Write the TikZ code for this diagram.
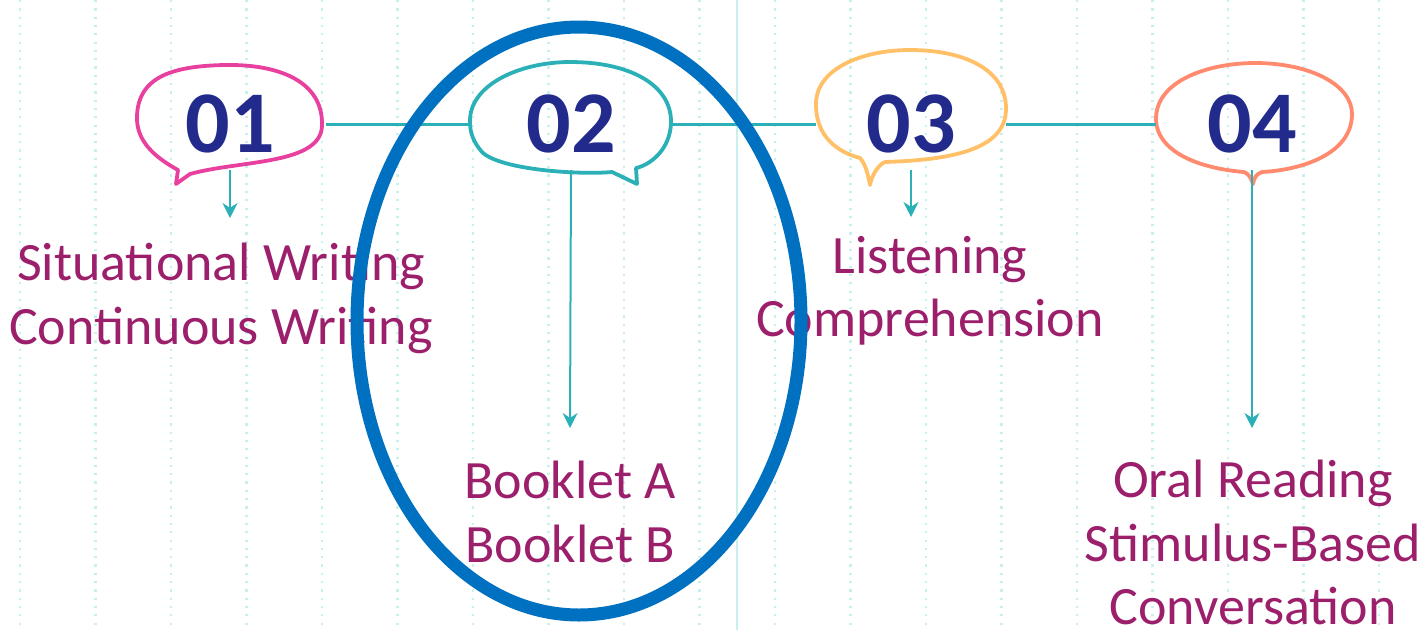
\documentclass[tikz,border=0pt]{standalone}
\usepackage{fontspec}
\setmainfont{Carlito}
\usetikzlibrary{arrows.meta,positioning}
\definecolor{gridc}{HTML}{C8F0EC}
\definecolor{numc}{HTML}{222A8C}
\definecolor{itemc}{HTML}{9C1F6C}
\definecolor{tealc}{HTML}{2BB0B8}
\definecolor{pinkc}{HTML}{E8409F}
\definecolor{orangec}{HTML}{FFC068}
\definecolor{salmonc}{HTML}{FF8A6E}
\definecolor{ringc}{HTML}{0070C0}

\begin{document}
\begin{tikzpicture}[
	x=1pt, y=-1pt,
	dots/.style = {draw=gridc, line width=2.2pt, dash pattern=on 2.2pt off 6.1pt},
	bubble/.style = {draw=#1, line width=3.8pt, line join=round},
	num/.style = {
		font=\fontsize{88}{88}\selectfont\bfseries, text=numc,
		inner sep=0pt, minimum width=#1, minimum height=92pt
	},
	link/.style = {draw=tealc, line width=3pt},
	arr/.style = {draw=tealc, line width=2pt, -{Stealth[length=15pt,width=15pt]}},
	item/.style = {
		font=\fontsize{54}{63.5}\selectfont, text=itemc,
		align=center, inner sep=0pt, anchor=north
	},
	ring/.style = {draw=ringc, line width=13pt}
]
	\useasboundingbox (0,0) rectangle (1423,630);
	% background
	\foreach \i in {0,...,18}
		\draw[dots] (20+75.5*\i,0) -- (20+75.5*\i,630);
	\draw[gridc, line width=2pt] (737,0) -- (737,630);

	% numbers
	\node[num=192pt] (b1) at (230,124) {01};
	\node[num=202pt] (b2) at (571,124) {02};
	\node[num=190pt] (b3) at (911,124) {03};
	\node[num=192pt] (b4) at (1252,124) {04};

	% bubbles
	\draw[bubble=pinkc] (178,170) -- (176,184) -- (190,174)
		.. controls (240,160) and (322,165) .. (322,125)
		.. controls (323,82) and (280,64) .. (225,65)
		.. controls (170,66) and (136,78) .. (137,120)
		.. controls (138,145) and (160,160) .. (178,170) -- cycle;
	\draw[bubble=tealc] (470,123)
		.. controls (468,85) and (520,62) .. (570,62)
		.. controls (630,62) and (672,85) .. (671,123)
		.. controls (670,150) and (650,165) .. (636,168)
		-- (637,184) -- (612,172)
		.. controls (580,175) and (500,170) .. (482,152)
		.. controls (474,143) and (470,133) .. (470,123) -- cycle;
	\draw[bubble=orangec] (816,105)
		.. controls (815,70) and (860,50) .. (910,50)
		.. controls (965,50) and (1007,70) .. (1006,110)
		.. controls (1005,150) and (950,160) .. (885,162)
		.. controls (878,165) and (872,175) .. (870,185)
		.. controls (868,175) and (866,165) .. (860,158)
		.. controls (830,150) and (816,130) .. (816,105) -- cycle;
	\draw[bubble=salmonc] (1156,120)
		.. controls (1155,80) and (1210,63) .. (1255,63)
		.. controls (1310,63) and (1353,85) .. (1352,115)
		.. controls (1351,155) and (1300,170) .. (1262,172)
		.. controls (1256,174) and (1254,178) .. (1253,184)
		.. controls (1251,178) and (1249,174) .. (1244,172)
		.. controls (1195,168) and (1157,150) .. (1156,120) -- cycle;

	% links
	\draw[link] (b1.east) -- (b2.west);
	\draw[link] (b2.east) -- (b3.west);
	\draw[link] (b3.east) -- (b4.west);

	% items
	\node[item] (t1) at (221,243) {Situational Writing\\Continuous Writing};
	\node[item] (t2) at (570,461) {Booklet A\\Booklet B};
	\node[item] (t3) at (930,236) {Listening\\Comprehension};
	\node[item] (t4) at (1253,460) {Oral Reading\\Stimulus-Based\\Conversation};

	\coordinate (e1) at (230,218);
	\coordinate (e2) at (570,428);
	\coordinate (e3) at (911,217);
	\coordinate (e4) at (1252,428);
	\draw[arr] (b1.south) -- (e1);
	\draw[arr] (b2.south) -- (e2);
	\draw[arr] (b3.south) -- (e3);
	\draw[arr] (b4.south) -- (e4);

	% highlight
	\draw[ring] (579,321) ellipse [x radius=222, y radius=294];
\end{tikzpicture}
\end{document}
